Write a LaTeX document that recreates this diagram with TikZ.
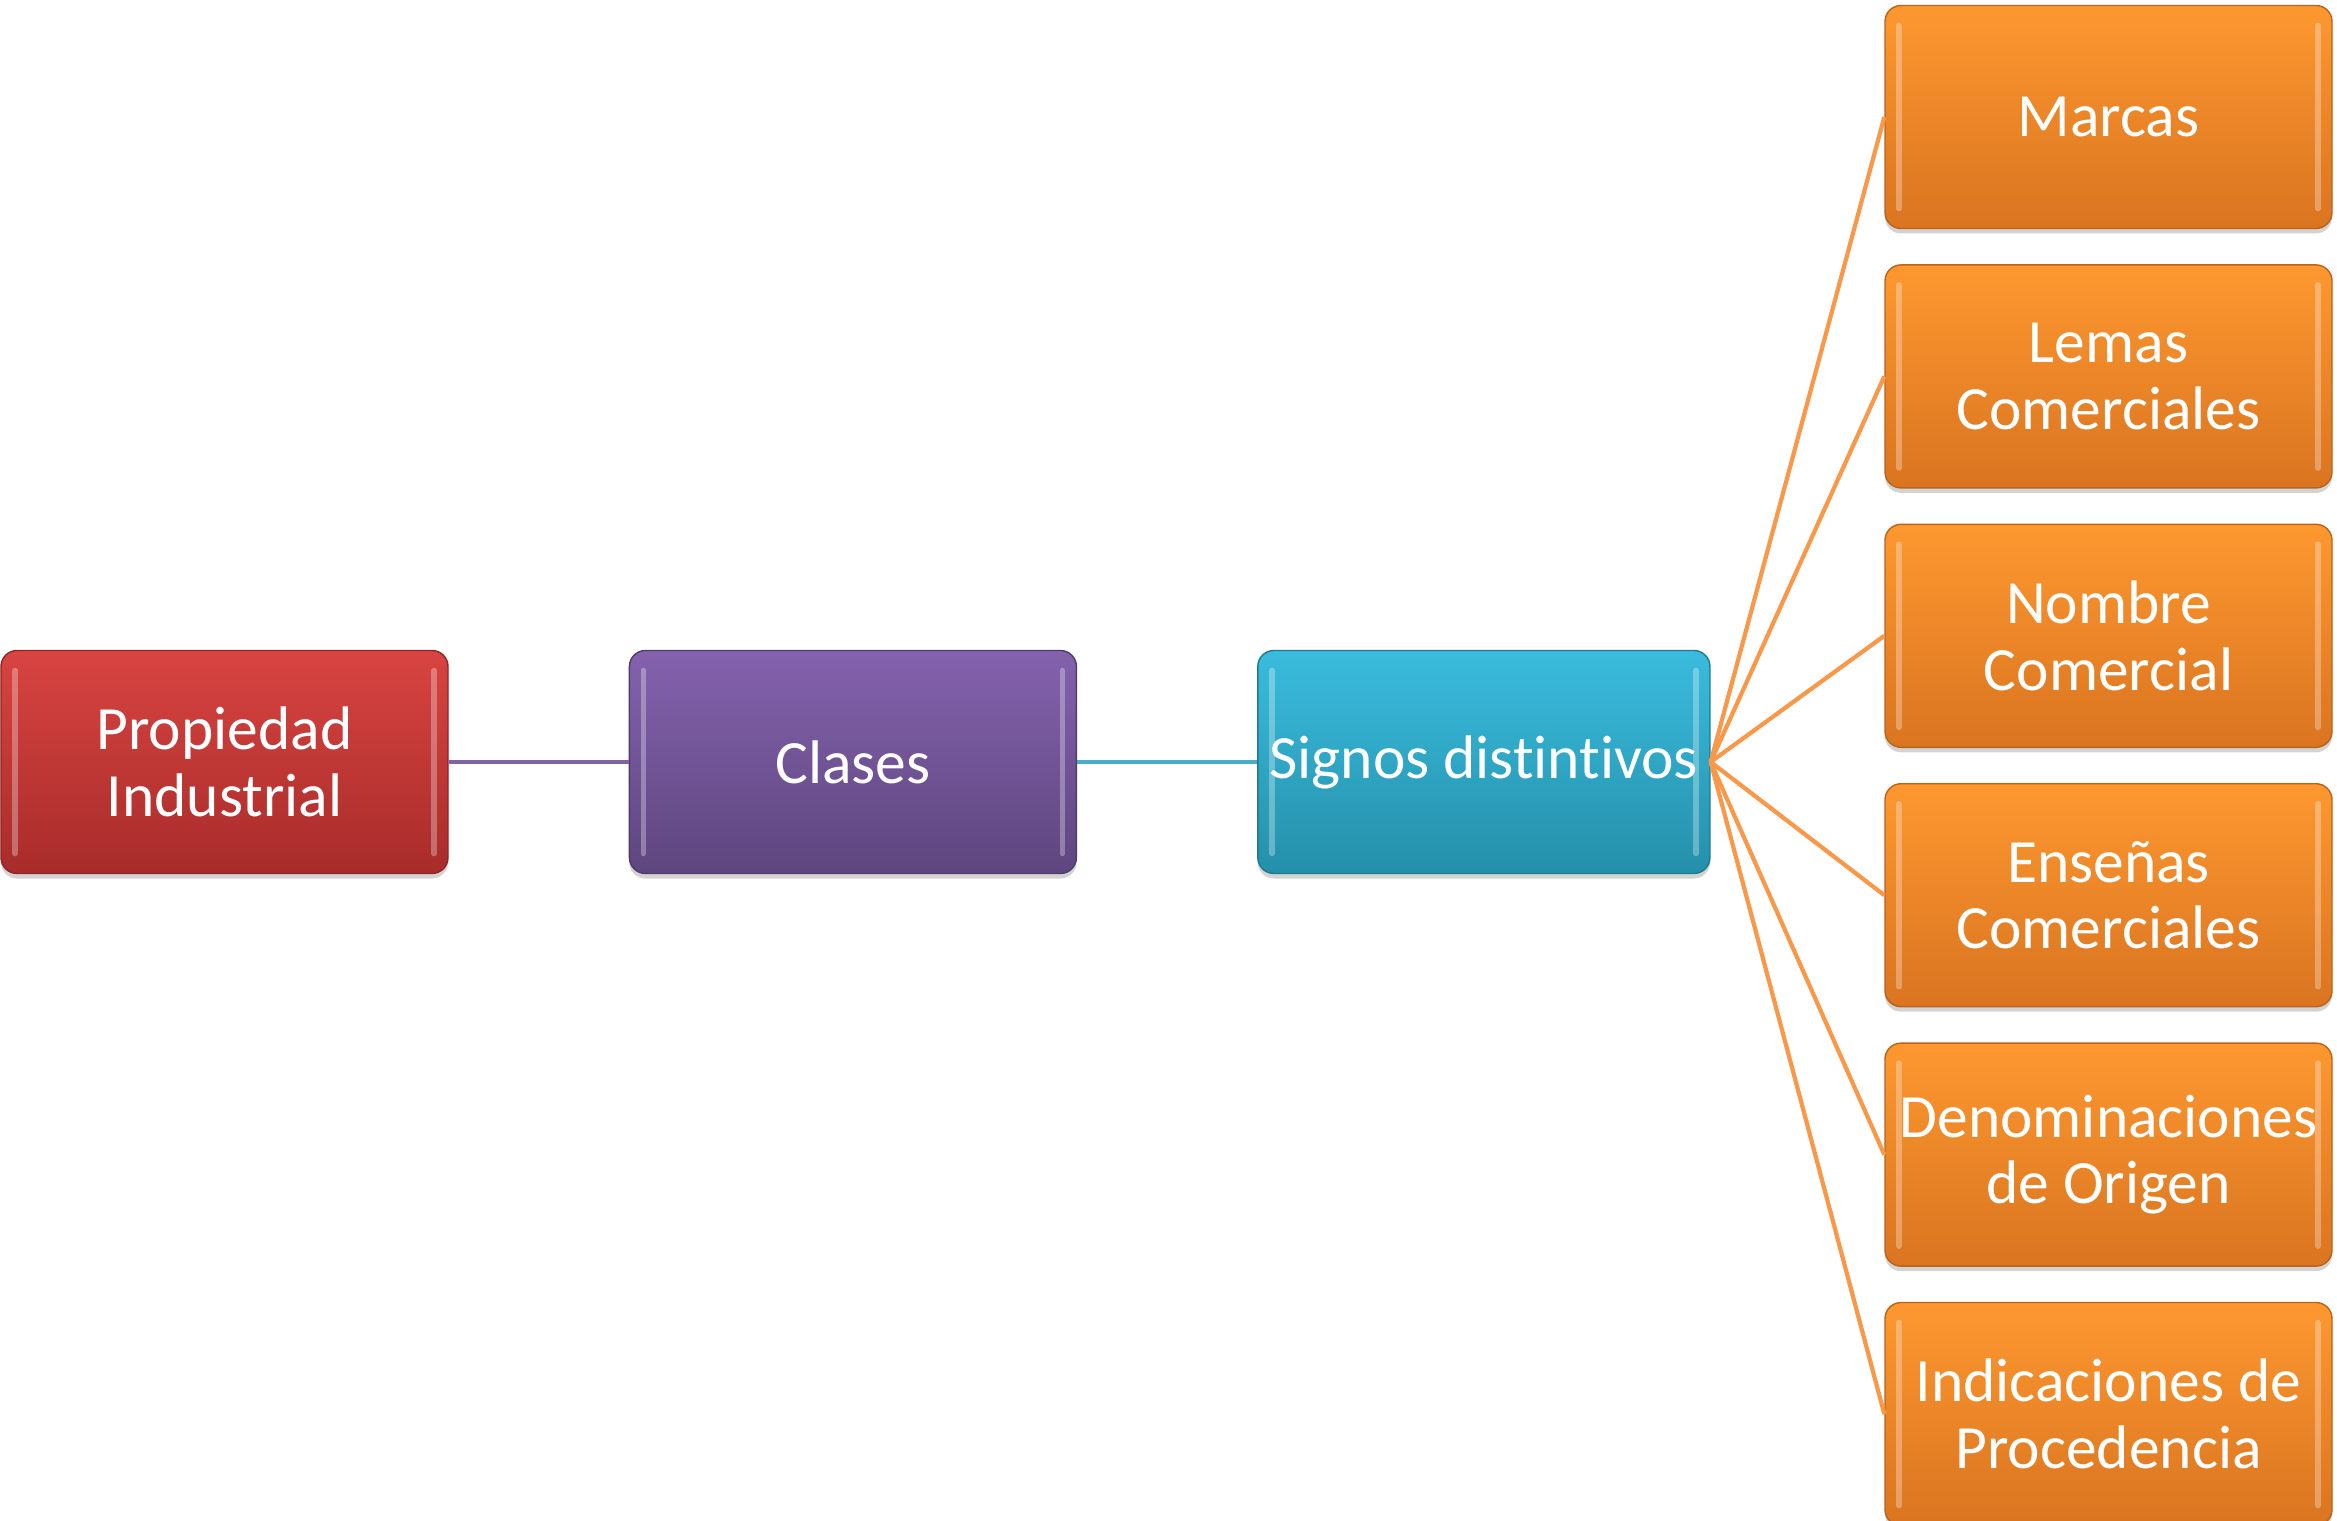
\documentclass[tikz,border=0pt]{standalone}
\usepackage{fontspec}
\setmainfont[Ligatures=NoCommon]{Carlito}
\usetikzlibrary{positioning, shadows}
\definecolor{rojotop}{RGB}{216, 68, 65}
\definecolor{rojobot}{RGB}{168, 44, 42}
\definecolor{moradotop}{RGB}{132, 98, 174}
\definecolor{moradobot}{RGB}{94, 70, 126}
\definecolor{cyantop}{RGB}{58, 188, 222}
\definecolor{cyanbot}{RGB}{36, 144, 170}
\definecolor{naranjatop}{RGB}{253, 152, 48}
\definecolor{naranjabot}{RGB}{218, 116, 32}
\definecolor{lineamorado}{RGB}{128, 100, 162}
\definecolor{lineacyan}{RGB}{75, 172, 198}
\definecolor{lineanaranja}{RGB}{249, 152, 72}

\begin{document}
\begin{tikzpicture}[
                node distance=0.35cm and 1.8cm,
                caja/.style={rounded corners=0.16cm, minimum width=4.47cm, minimum height=2.23cm,
                    align=center, text=white, font=\fontsize{17.5}{18.9}\selectfont,
                    drop shadow={shadow xshift=0cm, shadow yshift=-0.05cm, opacity=0.35},
                    path picture={
                        \draw[white, opacity=0.3, line width=1.6pt, line cap=round]
                            ([xshift=0.14cm, yshift=-0.2cm]path picture bounding box.north west) --
                            ([xshift=0.14cm, yshift=0.2cm]path picture bounding box.south west);
                        \draw[white, opacity=0.3, line width=1.6pt, line cap=round]
                            ([xshift=-0.14cm, yshift=-0.2cm]path picture bounding box.north east) --
                            ([xshift=-0.14cm, yshift=0.2cm]path picture bounding box.south east);
                    }},
                rojo/.style={caja, top color=rojotop, bottom color=rojobot, draw=rojobot!85!black},
                morado/.style={caja, top color=moradotop, bottom color=moradobot, draw=moradobot!85!black},
                cyanbox/.style={caja, top color=cyantop, bottom color=cyanbot, draw=cyanbot!85!black},
                naranja/.style={caja, top color=naranjatop, bottom color=naranjabot, draw=naranjabot!85!black},
                linea/.style={line width=1.2pt}
            ]
                \useasboundingbox (0,0) rectangle (23.37,15.20);
                \node[rojo] (prop) at (2.245,7.58) {Propiedad\\Industrial};
                \node[morado] (clases) [right=of prop] {Clases};
                \node[cyanbox] (signos) [right=of clases] {Signos distintivos};
                \node[naranja] (marcas) at (21.085,14.03) {Marcas};
                \node[naranja] (lemas)  [below=of marcas]  {Lemas\\Comerciales};
                \node[naranja] (nombre) [below=of lemas]   {Nombre\\Comercial};
                \node[naranja] (ensenas) [below=of nombre] {Enseñas\\Comerciales};
                \node[naranja] (denom)  [below=of ensenas] {Denominaciones\\de Origen};
                \node[naranja] (indic)  [below=of denom]   {Indicaciones de\\Procedencia};
                \draw[linea, lineamorado] (prop) -- (clases);
                \draw[linea, lineacyan] (clases) -- (signos);
                \foreach \hijo in {marcas, lemas, nombre, ensenas, denom, indic}
                    \draw[linea, lineanaranja] (signos.east) -- (\hijo.west);
            \end{tikzpicture}
\end{document}
